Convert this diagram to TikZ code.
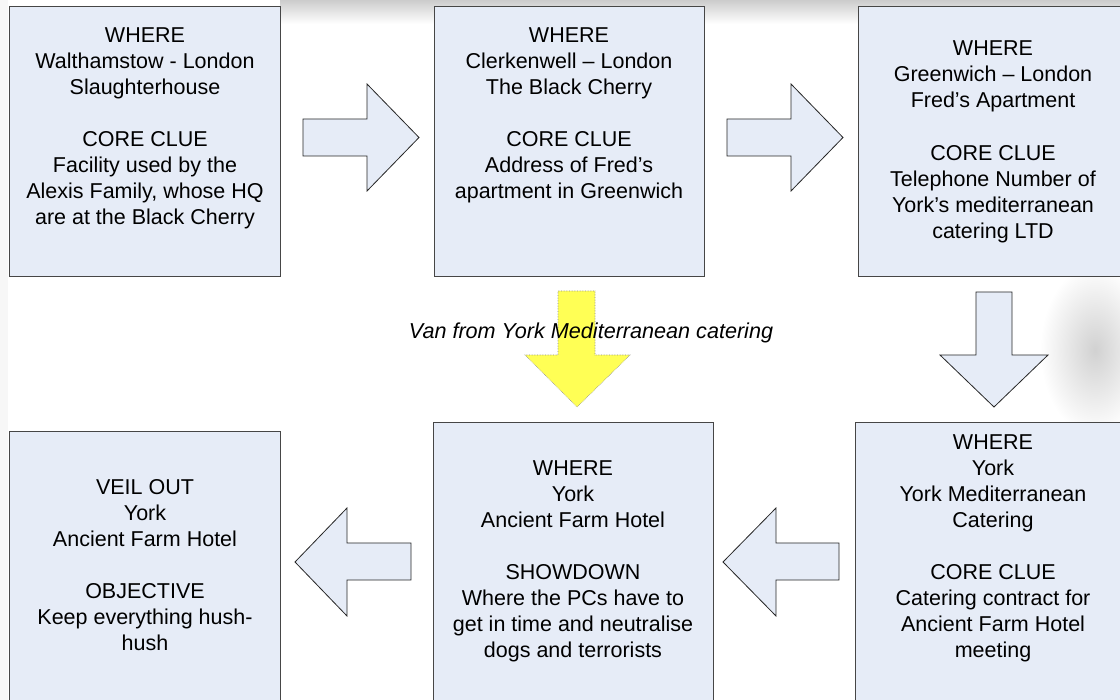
\documentclass[tikz,border=0pt]{standalone}
\usepackage{fontspec}
\setmainfont{Liberation Sans}
\definecolor{boxfill}{RGB}{230,236,247}
\definecolor{boxline}{RGB}{70,70,70}
\definecolor{vanyellow}{RGB}{255,255,85}
\begin{document}
\begin{tikzpicture}[x=1pt,y=-1pt,
  font=\fontsize{21.5}{26}\selectfont,
  panel/.style={draw=boxline, fill=boxfill, line width=1pt, anchor=north west, inner sep=0pt},
  blockarrow/.style={draw=black!85, fill=boxfill, line width=0.8pt, line join=miter},
  yellowarrow/.style={draw=black!45, densely dotted, fill=vanyellow, line width=0.6pt},
  txt/.style={align=center, inner sep=0pt, anchor=north, text=black}]
\useasboundingbox (0,0) rectangle (1120,700);
% faint background picture
\shade[top color=black!20, bottom color=white] (280,0) rectangle (1120,24);
\shade[inner color=black!18, outer color=white] (1095,350) ellipse [x radius=55, y radius=85];
\fill[black!3] (0,0) rectangle (8,700);
% panels
\node[panel, minimum width=271pt, minimum height=270pt] (b1) at (9,6) {};
\node[panel, minimum width=270pt, minimum height=270pt] (b2) at (434,6) {};
\node[panel, minimum width=280pt, minimum height=270pt] (b3) at (858,6) {};
\node[panel, minimum width=280pt, minimum height=290pt] (b4) at (855,422) {};
\node[panel, minimum width=280pt, minimum height=290pt] (b5) at (433,422) {};
\node[panel, minimum width=271pt, minimum height=280pt] (b6) at (9,431) {};
% block arrows
\draw[blockarrow] (303,119) -- (367,119) -- (367,84) -- (419,137.5) -- (367,191) -- (367,156) -- (303,156) -- cycle;
\draw[blockarrow] (727,119) -- (791,119) -- (791,84) -- (843,137.5) -- (791,191) -- (791,156) -- (727,156) -- cycle;
\draw[blockarrow] (976,292) -- (1012,292) -- (1012,355) -- (1048,355) -- (994,407) -- (940,355) -- (976,355) -- cycle;
\draw[blockarrow] (839,543) -- (776,543) -- (776,508) -- (723,562) -- (776,616) -- (776,580) -- (839,580) -- cycle;
\draw[blockarrow] (411,543) -- (347,543) -- (347,508) -- (295,562) -- (347,616) -- (347,580) -- (411,580) -- cycle;
% yellow arrow
\draw[yellowarrow] (558,291) -- (595,291) -- (595,355) -- (630,355) -- (577,407) -- (525,355) -- (558,355) -- cycle;
\node[inner sep=0pt, font=\fontsize{21.6}{26}\selectfont\itshape] (van) at (591,333) {Van from York Mediterranean catering};
% texts
\node[txt] (t1) at (145,27.5) {WHERE\\Walthamstow - London\\Slaughterhouse\\[26pt]CORE CLUE\\Facility used by the\\Alexis Family, whose HQ\\are at the Black Cherry};
\node[txt] (t2) at (569,27.5) {WHERE\\Clerkenwell -- London\\The Black Cherry\\[26pt]CORE CLUE\\Address of Fred’s\\apartment in Greenwich};
\node[txt] (t3) at (993,40.5) {WHERE\\Greenwich -- London\\Fred’s Apartment\\[27pt]CORE CLUE\\Telephone Number of\\York’s mediterranean\\catering LTD};
\node[txt] (t4) at (993,434.5) {WHERE\\York\\York Mediterranean\\Catering\\[26pt]CORE CLUE\\Catering contract for\\Ancient Farm Hotel\\meeting};
\node[txt] (t5) at (573,460.5) {WHERE\\York\\Ancient Farm Hotel\\[26pt]SHOWDOWN\\Where the PCs have to\\get in time and neutralise\\dogs and terrorists};
\node[txt] (t6) at (145,479.5) {VEIL OUT\\York\\Ancient Farm Hotel\\[26pt]OBJECTIVE\\Keep everything hush-\\hush};
\end{tikzpicture}
\end{document}
